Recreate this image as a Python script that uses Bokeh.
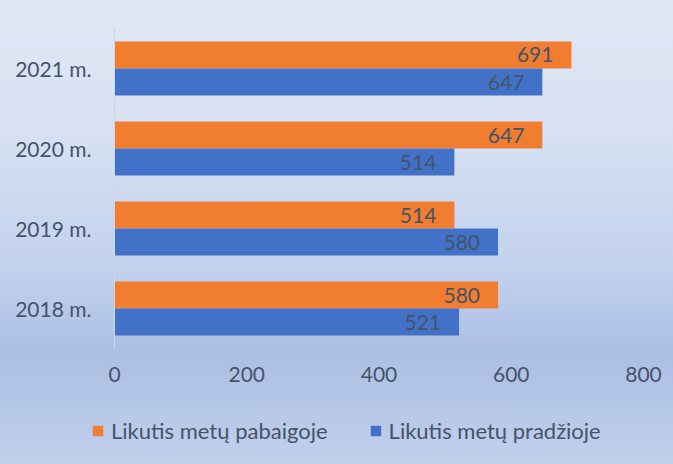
from bokeh.plotting import figure
from bokeh.layouts import column, row
from bokeh.models import FactorRange, Legend, LegendItem, ColumnDataSource
from bokeh.transform import dodge
from bokeh.core.properties import value
from bokeh.embed import file_html
from bokeh.resources import INLINE

categories = ["2018 m.", "2019 m.", "2020 m.", "2021 m."]
pabaigoje = [580, 514, 647, 691]   # Likutis metų pabaigoje
pradzioje = [521, 580, 514, 647]   # Likutis metų pradžioje
x_ticks = [0, 200, 400, 600, 800]
series_names = ["Likutis metų pabaigoje", "Likutis metų pradžioje"]

FONT = "Lato"
TXT = "#44546a"
ORANGE = "#f07d30"
BLUE = "#4271c8"

src = ColumnDataSource(dict(
    cat=categories,
    end=pabaigoje,
    start=pradzioje,
    end_lbl=[str(v) for v in pabaigoje],
    start_lbl=[str(v) for v in pradzioje],
))

p = figure(width=673, height=400,
           y_range=FactorRange(factors=categories, range_padding=0),
           x_range=(0, 800), output_backend="svg", toolbar_location=None,
           min_border_left=114, min_border_right=30, min_border_top=28, min_border_bottom=52)

h = 0.3375
p.hbar(y=dodge("cat", h / 2, range=p.y_range), right="end", left=0, height=h,
       source=src, fill_color=ORANGE, line_color=None)
p.hbar(y=dodge("cat", -h / 2, range=p.y_range), right="start", left=0, height=h,
       source=src, fill_color=BLUE, line_color=None)

p.text(x="end", y=dodge("cat", h / 2, range=p.y_range), text="end_lbl", source=src,
       x_offset=-18, text_align="right", text_baseline="middle",
       text_font=value(FONT), text_font_size="21px", text_color=TXT)
p.text(x="start", y=dodge("cat", -h / 2, range=p.y_range), text="start_lbl", source=src,
       x_offset=-18, text_align="right", text_baseline="middle",
       text_font=value(FONT), text_font_size="21px", text_color=TXT)

p.xaxis.ticker = x_ticks
p.xaxis.axis_line_color = None
p.xaxis.major_tick_line_color = None
p.xaxis.minor_tick_line_color = None
p.xaxis.major_tick_out = 0
p.xaxis.major_tick_in = 0
p.xaxis.major_label_text_font = FONT
p.xaxis.major_label_text_font_size = "21px"
p.xaxis.major_label_text_color = TXT
p.xaxis.major_label_standoff = 18

p.yaxis.axis_line_color = "#d0d6e0"
p.yaxis.major_tick_line_color = None
p.yaxis.minor_tick_line_color = None
p.yaxis.major_tick_out = 0
p.yaxis.major_tick_in = 0
p.yaxis.major_label_text_font = FONT
p.yaxis.major_label_text_font_size = "21px"
p.yaxis.major_label_text_color = TXT
p.yaxis.major_label_standoff = 23

p.xgrid.grid_line_color = None
p.ygrid.grid_line_color = None
p.outline_line_color = None
p.background_fill_alpha = 0
p.border_fill_alpha = 0

# legend strip below the chart (its series glyphs lie outside its view; only the legend shows)
p2 = figure(width=673, height=64, x_range=(-2000, -1000),
            y_range=FactorRange(factors=categories),
            x_axis_location=None, y_axis_location=None,
            output_backend="svg", toolbar_location=None,
            min_border_left=0, min_border_right=0, min_border_top=0, min_border_bottom=0)
p2.grid.visible = False
p2.outline_line_color = None
p2.background_fill_alpha = 0
p2.border_fill_alpha = 0
l1 = p2.hbar(y="cat", right="end", left=0, height=h, source=src, fill_color=ORANGE, line_color=None)
l2 = p2.hbar(y="cat", right="start", left=0, height=h, source=src, fill_color=BLUE, line_color=None)

legend = Legend(items=[LegendItem(label=series_names[0], renderers=[l1]),
                       LegendItem(label=series_names[1], renderers=[l2])],
                orientation="horizontal", location=(91, 20),
                label_text_font=FONT, label_text_font_size="22px", label_text_color=TXT,
                glyph_width=13, glyph_height=13, label_standoff=7, spacing=41,
                background_fill_alpha=0, border_line_color=None, padding=0, margin=0)
p2.add_layout(legend, "center")

layout = column(p, row(p2), spacing=0, styles={
    "background-image": "linear-gradient(180deg, #e1e8f5 0%, #d6e0f2 30%, #c2d1ee 58%, #abbfe4 76%, #c1d0ec 100%)"})

open("out.html", "w").write(file_html(layout, INLINE))
